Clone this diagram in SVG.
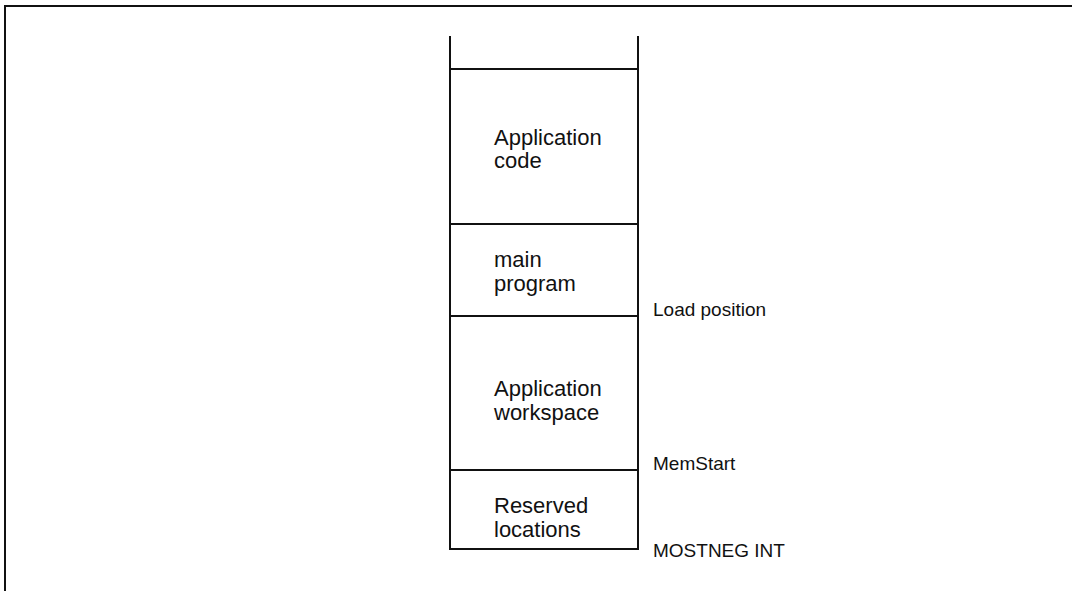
<svg xmlns="http://www.w3.org/2000/svg" width="1072" height="591" viewBox="0 0 1072 591">
<style>
.ln{stroke:#111;stroke-width:2;fill:none}
.bt{font-family:"Liberation Sans",Arial,sans-serif;font-size:22px;fill:#111}
.lb{font-family:"Liberation Sans",Arial,sans-serif;font-size:19px;fill:#111}
</style>
<rect width="1072" height="591" fill="#fff"/>
<path class="ln" d="M5,591 V6 H1072"/>
<g id="stack">
<path class="ln" d="M450,36 V549 H638 V36"/>
</g>
<g id="application-code">
<line class="ln" x1="450" y1="69" x2="638" y2="69"/>
<text class="bt" x="494" y="145">Application</text>
<text class="bt" x="494" y="168">code</text>
</g>
<g id="main-program">
<line class="ln" x1="450" y1="224" x2="638" y2="224"/>
<text class="bt" x="494" y="267">main</text>
<text class="bt" x="494" y="291">program</text>
</g>
<g id="application-workspace">
<line class="ln" x1="450" y1="316" x2="638" y2="316"/>
<text class="bt" x="494" y="396">Application</text>
<text class="bt" x="494" y="420">workspace</text>
</g>
<g id="reserved-locations">
<line class="ln" x1="450" y1="470" x2="638" y2="470"/>
<text class="bt" x="494" y="513">Reserved</text>
<text class="bt" x="494" y="537">locations</text>
</g>
<g id="labels">
<text class="lb" x="653" y="316">Load position</text>
<text class="lb" x="653" y="470">MemStart</text>
<text class="lb" x="653" y="557">MOSTNEG INT</text>
</g>
</svg>
